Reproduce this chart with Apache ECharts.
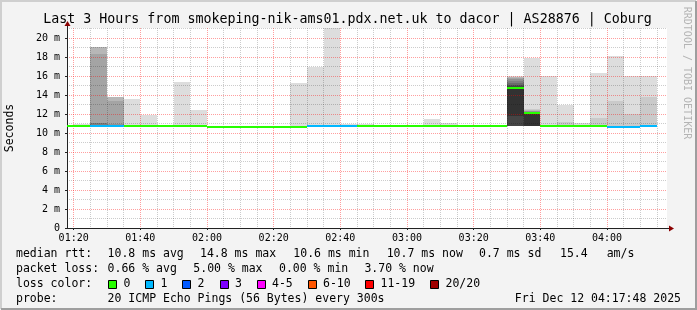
<!DOCTYPE html>
<html><head><meta charset="utf-8">
<script src="https://cdn.jsdelivr.net/npm/echarts@6/dist/echarts.min.js"></script>
<style>html,body{margin:0;padding:0;background:#f3f3f3}#c{width:697px;height:310px}</style>
</head><body><div id="c"></div>
<script>
// ---------------- data ----------------
const titleText = 'Last 3 Hours from smokeping-nik-ams01.pdx.net.uk to dacor | AS28876 | Coburg';
const axisStart = '01:18';
const axisEnd = '04:18';
const stepMinutes = 5;
const xTickLabels = ['01:20','01:40','02:00','02:20','02:40','03:00','03:20','03:40','04:00'];
const yTickValues = [0,2,4,6,8,10,12,14,16,18,20];
const yMinorValues = [1,3,5,7,9,11,13,15,17,19,21];
const yMax = 21.05;

const intervalStart = ['01:15','01:20','01:25','01:30','01:35','01:40','01:45','01:50','01:55',
  '02:00','02:05','02:10','02:15','02:20','02:25','02:30','02:35','02:40','02:45','02:50','02:55',
  '03:00','03:05','03:10','03:15','03:20','03:25','03:30','03:35','03:40','03:45','03:50','03:55',
  '04:00','04:05','04:10'];
const medianMs = [10.75,10.75,10.75,10.75,10.75,10.75,10.75,10.75,10.75,
  10.65,10.65,10.65,10.65,10.65,10.65,10.75,10.75,10.75,10.75,10.75,10.75,
  10.75,10.75,10.75,10.75,10.75,10.75,14.75,12.07,10.75,10.75,10.75,10.75,
  10.65,10.65,10.75];
const lossPings = [0,0,1,1,0,0,0,0,0,
  0,0,0,0,0,0,1,1,1,0,0,0,
  0,0,0,0,0,0,0,0,0,0,0,0,
  1,1,1];
// smoke bands per interval: [low, high] for ping pair rank 1 (outer), 2, 3 ...
const smokeBands = [
  [[10.7,10.85]],
  [[10.7,10.9]],
  [[10.7,19.06],[10.7,19.06],[10.72,19.0],[10.74,18.3],[10.76,11.1],[10.78,11.0]],
  [[10.7,13.8],[10.7,13.8],[10.72,13.75],[10.74,13.4],[10.76,10.9]],
  [[10.7,13.6]],
  [[10.7,11.87]],
  [[10.7,10.85]],
  [[10.7,15.4]],
  [[10.7,12.46]],
  [[10.6,10.75]],
  [[10.6,10.75]],
  [[10.6,10.75]],
  [[10.6,10.75]],
  [[10.6,10.75]],
  [[10.6,15.3]],
  [[10.65,16.96]],
  [[10.65,21.5]],
  [[10.65,10.95]],
  [[10.7,10.95]],
  [[10.7,10.85]],
  [[10.7,10.85]],
  [[10.7,10.85]],
  [[10.7,11.5]],
  [[10.7,11.0]],
  [[10.7,10.85]],
  [[10.7,10.85]],
  [[10.7,10.85]],
  [[10.7,15.95],[10.7,15.9],[10.7,15.85],[10.7,15.75],[10.7,15.65],[10.7,15.5],[10.7,15.3],[10.7,15.1],[10.7,14.9],[11.8,14.8]],
  [[10.7,17.94],[10.7,12.5],[10.7,12.42],[10.7,12.36],[10.7,12.3],[10.7,12.24],[10.7,12.18],[10.7,12.12],[10.7,12.06],[10.7,12.0]],
  [[10.7,16.0]],
  [[10.7,12.95],[10.7,11.2]],
  [[10.7,11.1]],
  [[10.7,16.27],[10.7,11.55]],
  [[10.6,18.1],[10.6,13.4]],
  [[10.6,15.95],[10.6,12.0]],
  [[10.65,15.95],[10.65,13.75]]
];
const pingsPerRound = 20;

const rttStats = ['10.8 ms avg','14.8 ms max','10.6 ms min','10.7 ms now','0.7 ms sd','15.4','am/s'];
const lossStats = ['0.66 % avg','5.00 % max','0.00 % min','3.70 % now'];
const lossLabels = ['0','1','2','3','4-5','6-10','11-19','20/20'];
const lossColors = ['#26ff00','#00b8ff','#0059ff','#7e00ff','#ff00ff','#ff5500','#ff0000','#a10000'];
const probeText = '20 ICMP Echo Pings (56 Bytes) every 300s';
const dateText = 'Fri Dec 12 04:17:48 2025';

// ---------------- helpers ----------------
const toMin = s => { const p = s.split(':').map(Number); return p[0]*60 + p[1]; };
const pad = n => String(n).padStart(2,'0');
const fmt = v => pad(Math.floor(v/60)) + ':' + pad(Math.round(v%60));
const lossIdx = n => n===0?0: n===1?1: n===2?2: n===3?3: n<=5?4: n<=10?5: n<pingsPerRound?6:7;
const half = pingsPerRound/2;
const smokeShade = r => { const c = Math.floor(190/half*(half-r))+50; const h = c.toString(16).padStart(2,'0'); return '#'+h+h+h; };

const xMin = toMin(axisStart), xMax = toMin(axisEnd);
const majorX = xTickLabels.map(toMin);
const minorX = [];
for (let t = majorX[0]; t < xMax; t += stepMinutes) if (majorX.indexOf(t) < 0) minorX.push(t);

const smokeData = [];
intervalStart.forEach((s,i) => {
  const t0 = toMin(s), t1 = t0 + stepMinutes;
  smokeBands[i].forEach((b,k) => smokeData.push([t0, t1, b[0], b[1], k+1]));
});
const medData = intervalStart.map((s,i) => [toMin(s), toMin(s)+stepMinutes, medianMs[i], lossPings[i]]);

const FONT = '"DejaVu Sans Mono", monospace';
const gridMajor = 'rgba(255,0,0,0.38)';
const gridMinor = 'rgba(0,0,0,0.2)';

// ---------------- graphics (frame, title, legend) ----------------
const g = [];
const txt = (x,y,text,size,align,extra) => g.push(Object.assign({type:'text', x, y, silent:true, style:{text, font: size+'px '+FONT, fill:'#000', align: align||'left', verticalAlign:'middle', textAlign: align||'left', textVerticalAlign:'middle'}}, extra||{}));
// frame
g.push({type:'polyline', silent:true, shape:{points:[[1,309],[1,1],[696,1]]}, style:{stroke:'#cfcfcf', lineWidth:2, fill:null}});
g.push({type:'polyline', silent:true, shape:{points:[[1,309],[696,309],[696,1]]}, style:{stroke:'#9e9e9e', lineWidth:2, fill:null}});
// title
txt(347.5, 19.5, titleText, 13.3, 'center');
// y-axis name
g.push({type:'text', x:10, y:128, rotation:Math.PI/2, silent:true, style:{text:'Seconds', font:'11.5px '+FONT, fill:'#000', align:'center', verticalAlign:'middle', textAlign:'center', textVerticalAlign:'middle'}});
// watermark
g.push({type:'text', x:687, y:73, rotation:-Math.PI/2, silent:true, style:{text:'RRDTOOL / TOBI OETIKER', font:'10px '+FONT, fill:'#b4b4b4', align:'center', verticalAlign:'middle', textAlign:'center', textVerticalAlign:'middle'}});
// axis arrows
g.push({type:'line', silent:true, shape:{x1:67.5,y1:28,x2:67.5,y2:24}, style:{stroke:'#222', lineWidth:1}, z:10});
g.push({type:'line', silent:true, shape:{x1:667,y1:228.5,x2:671,y2:228.5}, style:{stroke:'#222', lineWidth:1}, z:10});
g.push({type:'polygon', silent:true, shape:{points:[[64.5,26],[70.5,26],[67.5,21]]}, style:{fill:'#8b0000'}, z:10});
g.push({type:'polygon', silent:true, shape:{points:[[669,225.5],[669,231.5],[674,228.5]]}, style:{fill:'#8b0000'}, z:10});
// legend
const LY = [254.5, 269.5, 284.5, 299.5];
const LS = 11.5;
txt(16, LY[0], 'median rtt:', LS);
const rttX = [107.6, 200, 293.3, 386.7, 479, 560, 606.7];
rttStats.forEach((s,i) => txt(rttX[i], LY[0], s, LS));
txt(16, LY[1], 'packet loss:', LS);
const lossX = [107.6, 193.3, 279, 364.4];
lossStats.forEach((s,i) => txt(lossX[i], LY[1], s, LS));
txt(16, LY[2], 'loss color:', LS);
const boxX = [108, 145, 182, 219.5, 256.5, 307.5, 365, 430];
lossLabels.forEach((s,i) => {
  g.push({type:'rect', silent:true, shape:{x:Math.round(boxX[i])+0.5, y:280.5, width:8, height:8}, style:{fill:lossColors[i], stroke:'#000', lineWidth:1}});
  txt(boxX[i]+15.5, LY[2], s, LS);
});
txt(16, LY[3], 'probe:', LS);
txt(107.6, LY[3], probeText, LS);
txt(681, LY[3], dateText, LS, 'right');

// ---------------- chart ----------------
const chart = echarts.init(document.getElementById('c'), null, {renderer:'canvas'});
const axisLabelStyle = {fontFamily: FONT, fontSize: 10, color: '#000'};
chart.setOption({
  animation: false,
  backgroundColor: '#f3f3f3',
  grid: {left: 67, top: 28, width: 600, height: 200, show: true, backgroundColor: '#ffffff', borderWidth: 0},
  xAxis: [
    {type:'value', min:xMin, max:xMax, position:'bottom', z:3,
     axisLine:{show:true, onZero:false, lineStyle:{color:'#222', width:1}},
     axisTick:{show:true, length:2, customValues: majorX, lineStyle:{color:'#222'}},
     axisLabel:{show:true, customValues: majorX, formatter: v => fmt(v), margin:5, ...axisLabelStyle},
     splitLine:{show:true, lineStyle:{color:gridMajor, type:[1,1], width:1}}},
    {type:'value', min:xMin, max:xMax, position:'bottom', z:3,
     axisLine:{show:false}, axisTick:{show:false, customValues: minorX}, axisLabel:{show:false, customValues: minorX},
     splitLine:{show:true, lineStyle:{color:gridMinor, type:[1,1], width:1}}}
  ],
  yAxis: [
    {type:'value', min:0, max:yMax, position:'left', z:3,
     axisLine:{show:true, onZero:false, lineStyle:{color:'#222', width:1}},
     axisTick:{show:true, length:2, customValues: yTickValues, lineStyle:{color:'#222'}},
     axisLabel:{show:true, customValues: yTickValues, formatter: v => v===0 ? '0' : v + ' m', margin:7, ...axisLabelStyle},
     splitLine:{show:true, lineStyle:{color:gridMajor, type:[1,1], width:1}}},
    {type:'value', min:0, max:yMax, position:'left', z:3,
     axisLine:{show:false}, axisTick:{show:false, customValues: yMinorValues}, axisLabel:{show:false, customValues: yMinorValues},
     splitLine:{show:true, lineStyle:{color:gridMinor, type:[1,1], width:1}}}
  ],
  series: [
    {type:'custom', name:'smoke', xAxisIndex:0, yAxisIndex:0, clip:true, z:2, silent:true,
     data: smokeData, encode:{x:[0,1], y:[2,3]},
     renderItem: (params, api) => {
       const p0 = api.coord([api.value(0), api.value(3)]);
       const p1 = api.coord([api.value(1), api.value(2)]);
       const r = api.value(4);
       const x0 = Math.round(p0[0]), x1 = Math.round(p1[0]);
       const y0 = Math.round(p0[1]), y1 = Math.round(p1[1]);
       return {type:'rect', z2:r, shape:{x:x0, y:y0, width:x1-x0, height:Math.max(1,y1-y0)}, style:{fill:smokeShade(r)}};
     }},
    {type:'custom', name:'median', xAxisIndex:0, yAxisIndex:0, clip:true, z:4, silent:true,
     data: medData, encode:{x:[0,1], y:2},
     renderItem: (params, api) => {
       const p0 = api.coord([api.value(0), api.value(2)]);
       const p1 = api.coord([api.value(1), api.value(2)]);
       const x0 = Math.round(p0[0]), x1 = Math.round(p1[0]);
       const y = Math.round(p0[1]) - 1;
       return {type:'rect', shape:{x:x0, y:y, width:x1-x0, height:2}, style:{fill:lossColors[lossIdx(api.value(3))]}};
     }}
  ],
  graphic: {elements: g}
});
</script></body></html>
